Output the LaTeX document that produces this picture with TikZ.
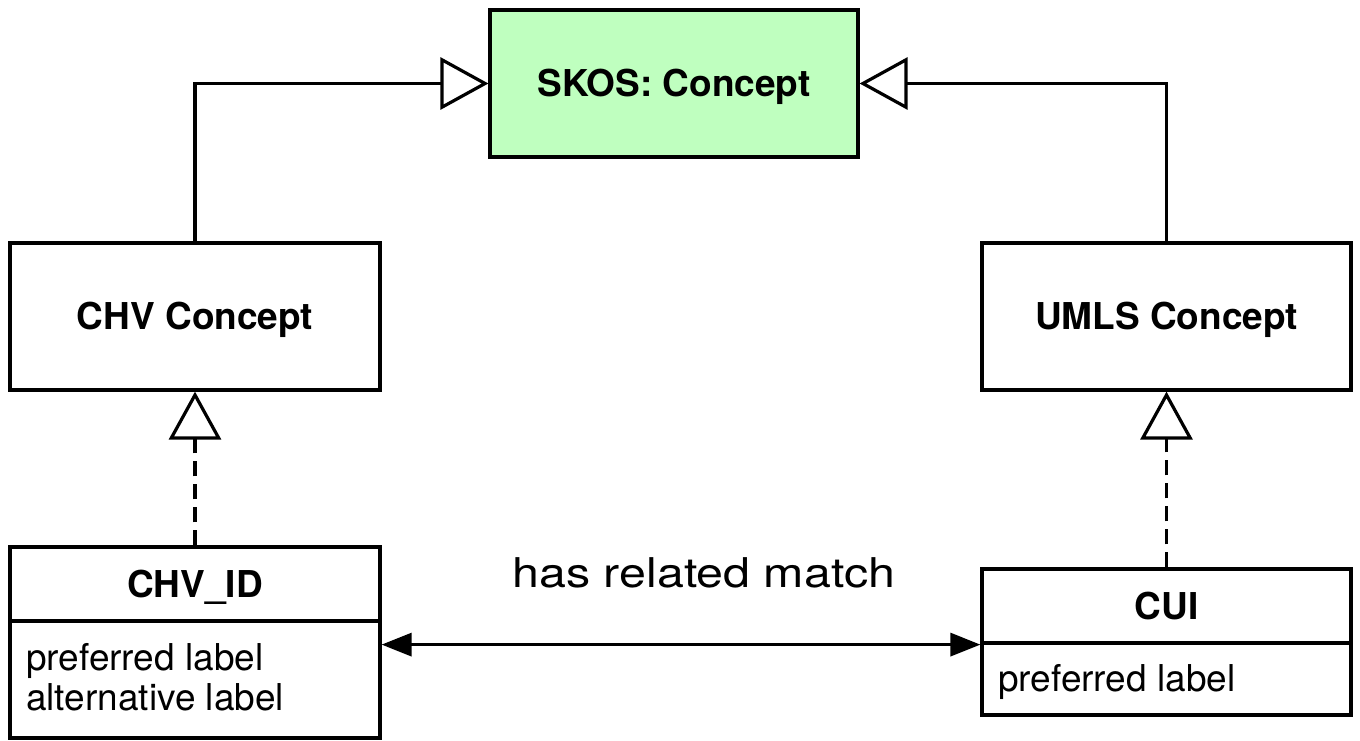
\documentclass[tikz,border=0pt]{standalone}
\usepackage{fontspec}
\usepackage{graphicx}
\setmainfont{TeX Gyre Heros}
\usetikzlibrary{arrows.meta}
\definecolor{skosgreen}{RGB}{191,255,191}
\begin{document}
\begin{tikzpicture}[x=1pt,y=-1pt,
  lw/.style={line width=3.2pt},
  clsbox/.style={draw, lw, rectangle, inner sep=0pt, minimum width=#1,
    font=\fontsize{37}{44}\selectfont\bfseries, text height=26.6pt, text depth=0pt},
  attrtext/.style={anchor=base west, inner sep=0pt, font=\fontsize{37}{44}\selectfont},
  gen/.style={lw, -{Triangle[open, length=48pt, width=52pt]}},
  realize/.style={gen, dash pattern=on 15pt off 8pt},
  assoc/.style={lw, {Triangle[length=30pt, width=23pt]}-{Triangle[length=30pt, width=23pt]}}
]
\useasboundingbox (0,0) rectangle (1360,741);
% classes
\node[clsbox=368pt, minimum height=147pt, fill=skosgreen] (skos) at (674,83.5) {SKOS: Concept};
\node[clsbox=370pt, minimum height=147pt] (chv) at (195,316.5) {CHV Concept};
\node[clsbox=369pt, minimum height=147pt] (umls) at (1166.5,316.5) {UMLS Concept};
% CHV_ID
\node[clsbox=370pt, minimum height=74pt] (chvid) at (195,584) {CHV\_ID};
\node[clsbox=370pt, minimum height=117pt] (chvidb) at (195,679.5) {};
\node[attrtext] (chvpref) at (26,670.7) {preferred label};
\node[attrtext] (chvalt) at (26,710) {alternative label};
% CUI
\node[clsbox=369pt, minimum height=74pt] (cui) at (1166.5,606) {CUI};
\node[clsbox=369pt, minimum height=72pt] (cuib) at (1166.5,679) {};
\node[attrtext] (cuipref) at (998,691.7) {preferred label};
% relation label
\node[anchor=base, inner sep=0pt, font=\fontsize{41}{48}\selectfont] (rel) at (704,587) {\scalebox{1.18}[1]{has related match}};
% connectors
\draw[gen] (chv.north) |- (skos.west);
\draw[gen] (umls.north) |- (skos.east);
\draw[realize] (chvid.north) -- (chv.south);
\draw[realize] (cui.north) -- (umls.south);
\draw[assoc] (chvidb.east |- cui.south) -- (cuib.west |- cui.south);
\end{tikzpicture}
\end{document}
